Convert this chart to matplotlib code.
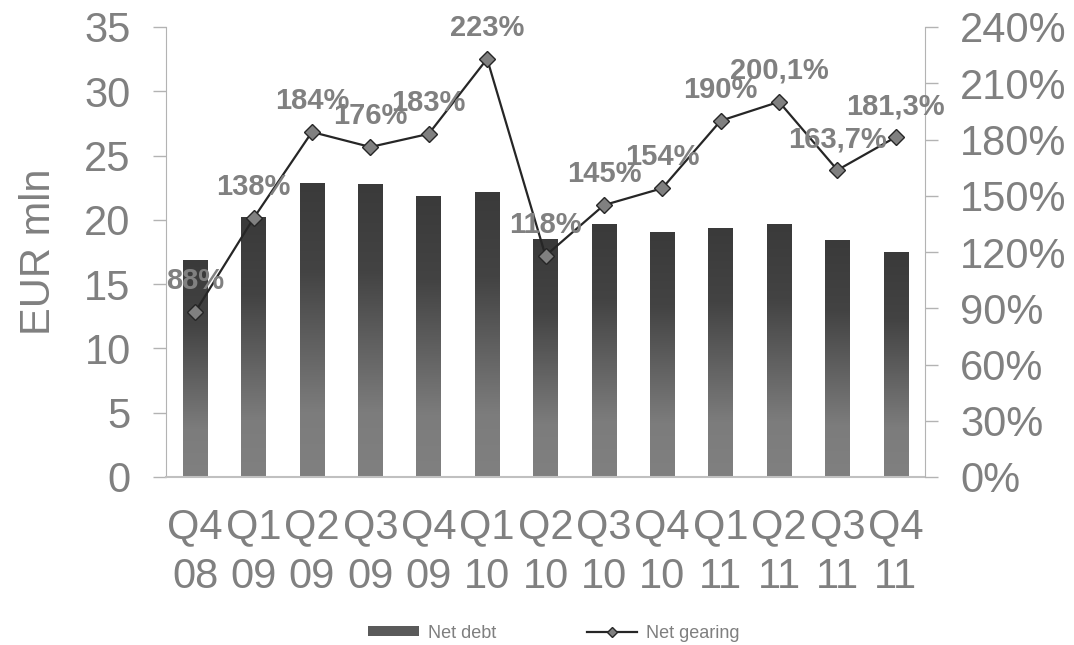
import matplotlib
matplotlib.use("Agg")
import matplotlib.pyplot as plt
import numpy as np
from matplotlib.colors import LinearSegmentedColormap
from matplotlib.lines import Line2D
from matplotlib.patches import Patch

plt.rcParams['font.family'] = ['Liberation Sans', 'DejaVu Sans']

categories = ["Q4\n08", "Q1\n09", "Q2\n09", "Q3\n09", "Q4\n09", "Q1\n10", "Q2\n10",
              "Q3\n10", "Q4\n10", "Q1\n11", "Q2\n11", "Q3\n11", "Q4\n11"]
net_debt = [16.9, 20.2, 22.9, 22.8, 21.85, 22.2, 18.5, 19.7, 19.05, 19.4, 19.7, 18.4, 17.5]
net_gearing = [88, 138, 184, 176, 183, 223, 118, 145, 154, 190, 200.1, 163.7, 181.3]
gearing_labels = ["88%", "138%", "184%", "176%", "183%", "223%", "118%", "145%", "154%",
                  "190%", "200,1%", "163,7%", "181,3%"]
left_ticks = [0, 5, 10, 15, 20, 25, 30, 35]
right_ticks = [0, 30, 60, 90, 120, 150, 180, 210, 240]

GRAY = "#808080"
SPINE = "#b3b3b3"

fig = plt.figure(figsize=(10.74, 6.45), dpi=100)
ax = fig.add_axes([166/1074, 1-477/645, (925-166)/1074, 450/645])
x = np.arange(len(categories))

bars = ax.bar(x, net_debt, width=0.42, color="none", edgecolor="none", zorder=2)
cmap = LinearSegmentedColormap.from_list(
    "g", [(0.0, "#3a3a3a"), (0.3, "#434343"), (0.78, "#7c7c7c"), (1.0, "#808080")])
grad = np.linspace(0, 1, 256).reshape(-1, 1)
for b in bars:
    x0, y0 = b.get_x(), b.get_y()
    w, h = b.get_width(), b.get_height()
    im = ax.imshow(grad, extent=[x0, x0 + w, y0, y0 + h], origin="upper",
                   aspect="auto", cmap=cmap, vmin=0, vmax=1, zorder=2)
    im.set_clip_path(b)

ax.set_xlim(-0.5, len(categories) - 0.5)
ax.set_ylim(0, 35)
ax.set_yticks(left_ticks)
ax.set_xticks(x)
ax.set_xticklabels(categories, linespacing=1.3)
ax.tick_params(axis="x", length=0, pad=22, labelsize=30, labelcolor=GRAY)
ax.tick_params(axis="y", direction="out", length=9.4, width=1, color=SPINE,
               pad=16, labelsize=30, labelcolor=GRAY)
ax.set_ylabel("EUR mln", fontsize=30, color=GRAY, labelpad=18)
for s in ["top", "right"]:
    ax.spines[s].set_visible(False)
ax.spines["left"].set_color(SPINE)
ax.spines["bottom"].set_color("#c0c0c0")
ax.spines["bottom"].set_linewidth(1.5)

ax2 = ax.twinx()
ax2.plot(x, net_gearing, color="#262626", lw=1.6, marker="D", ms=8,
         mfc=GRAY, mec="#262626", mew=1, zorder=3)
ax2.set_ylim(0, 240)
ax2.set_yticks(right_ticks)
ax2.set_yticklabels([f"{t}%" for t in right_ticks])
ax2.tick_params(axis="y", direction="out", length=9.4, width=1, color=SPINE,
                pad=16, labelsize=30, labelcolor=GRAY)
for s in ["top", "left", "bottom"]:
    ax2.spines[s].set_visible(False)
ax2.spines["right"].set_color(SPINE)

for xi, v, lab in zip(x, net_gearing, gearing_labels):
    ax2.annotate(lab, (xi, v), xytext=(0, 16.5), textcoords="offset points",
                 ha="center", va="baseline", fontsize=21, fontweight="bold",
                 color=GRAY, zorder=4)

handles = [Patch(facecolor="#5a5a5a", edgecolor="none"),
           Line2D([], [], color="#262626", lw=1.6, marker="D", ms=5,
                  mfc=GRAY, mec="#262626", mew=1)]
fig.legend(handles, ["Net debt", "Net gearing"], loc="center",
           bbox_to_anchor=(554/1074, 1-633/645), ncol=2, frameon=False,
           fontsize=13, labelcolor="#7f7f7f", handlelength=2.8, handleheight=0.45,
           handletextpad=0.5, columnspacing=5.0)

fig.savefig("out.png", dpi=100)
